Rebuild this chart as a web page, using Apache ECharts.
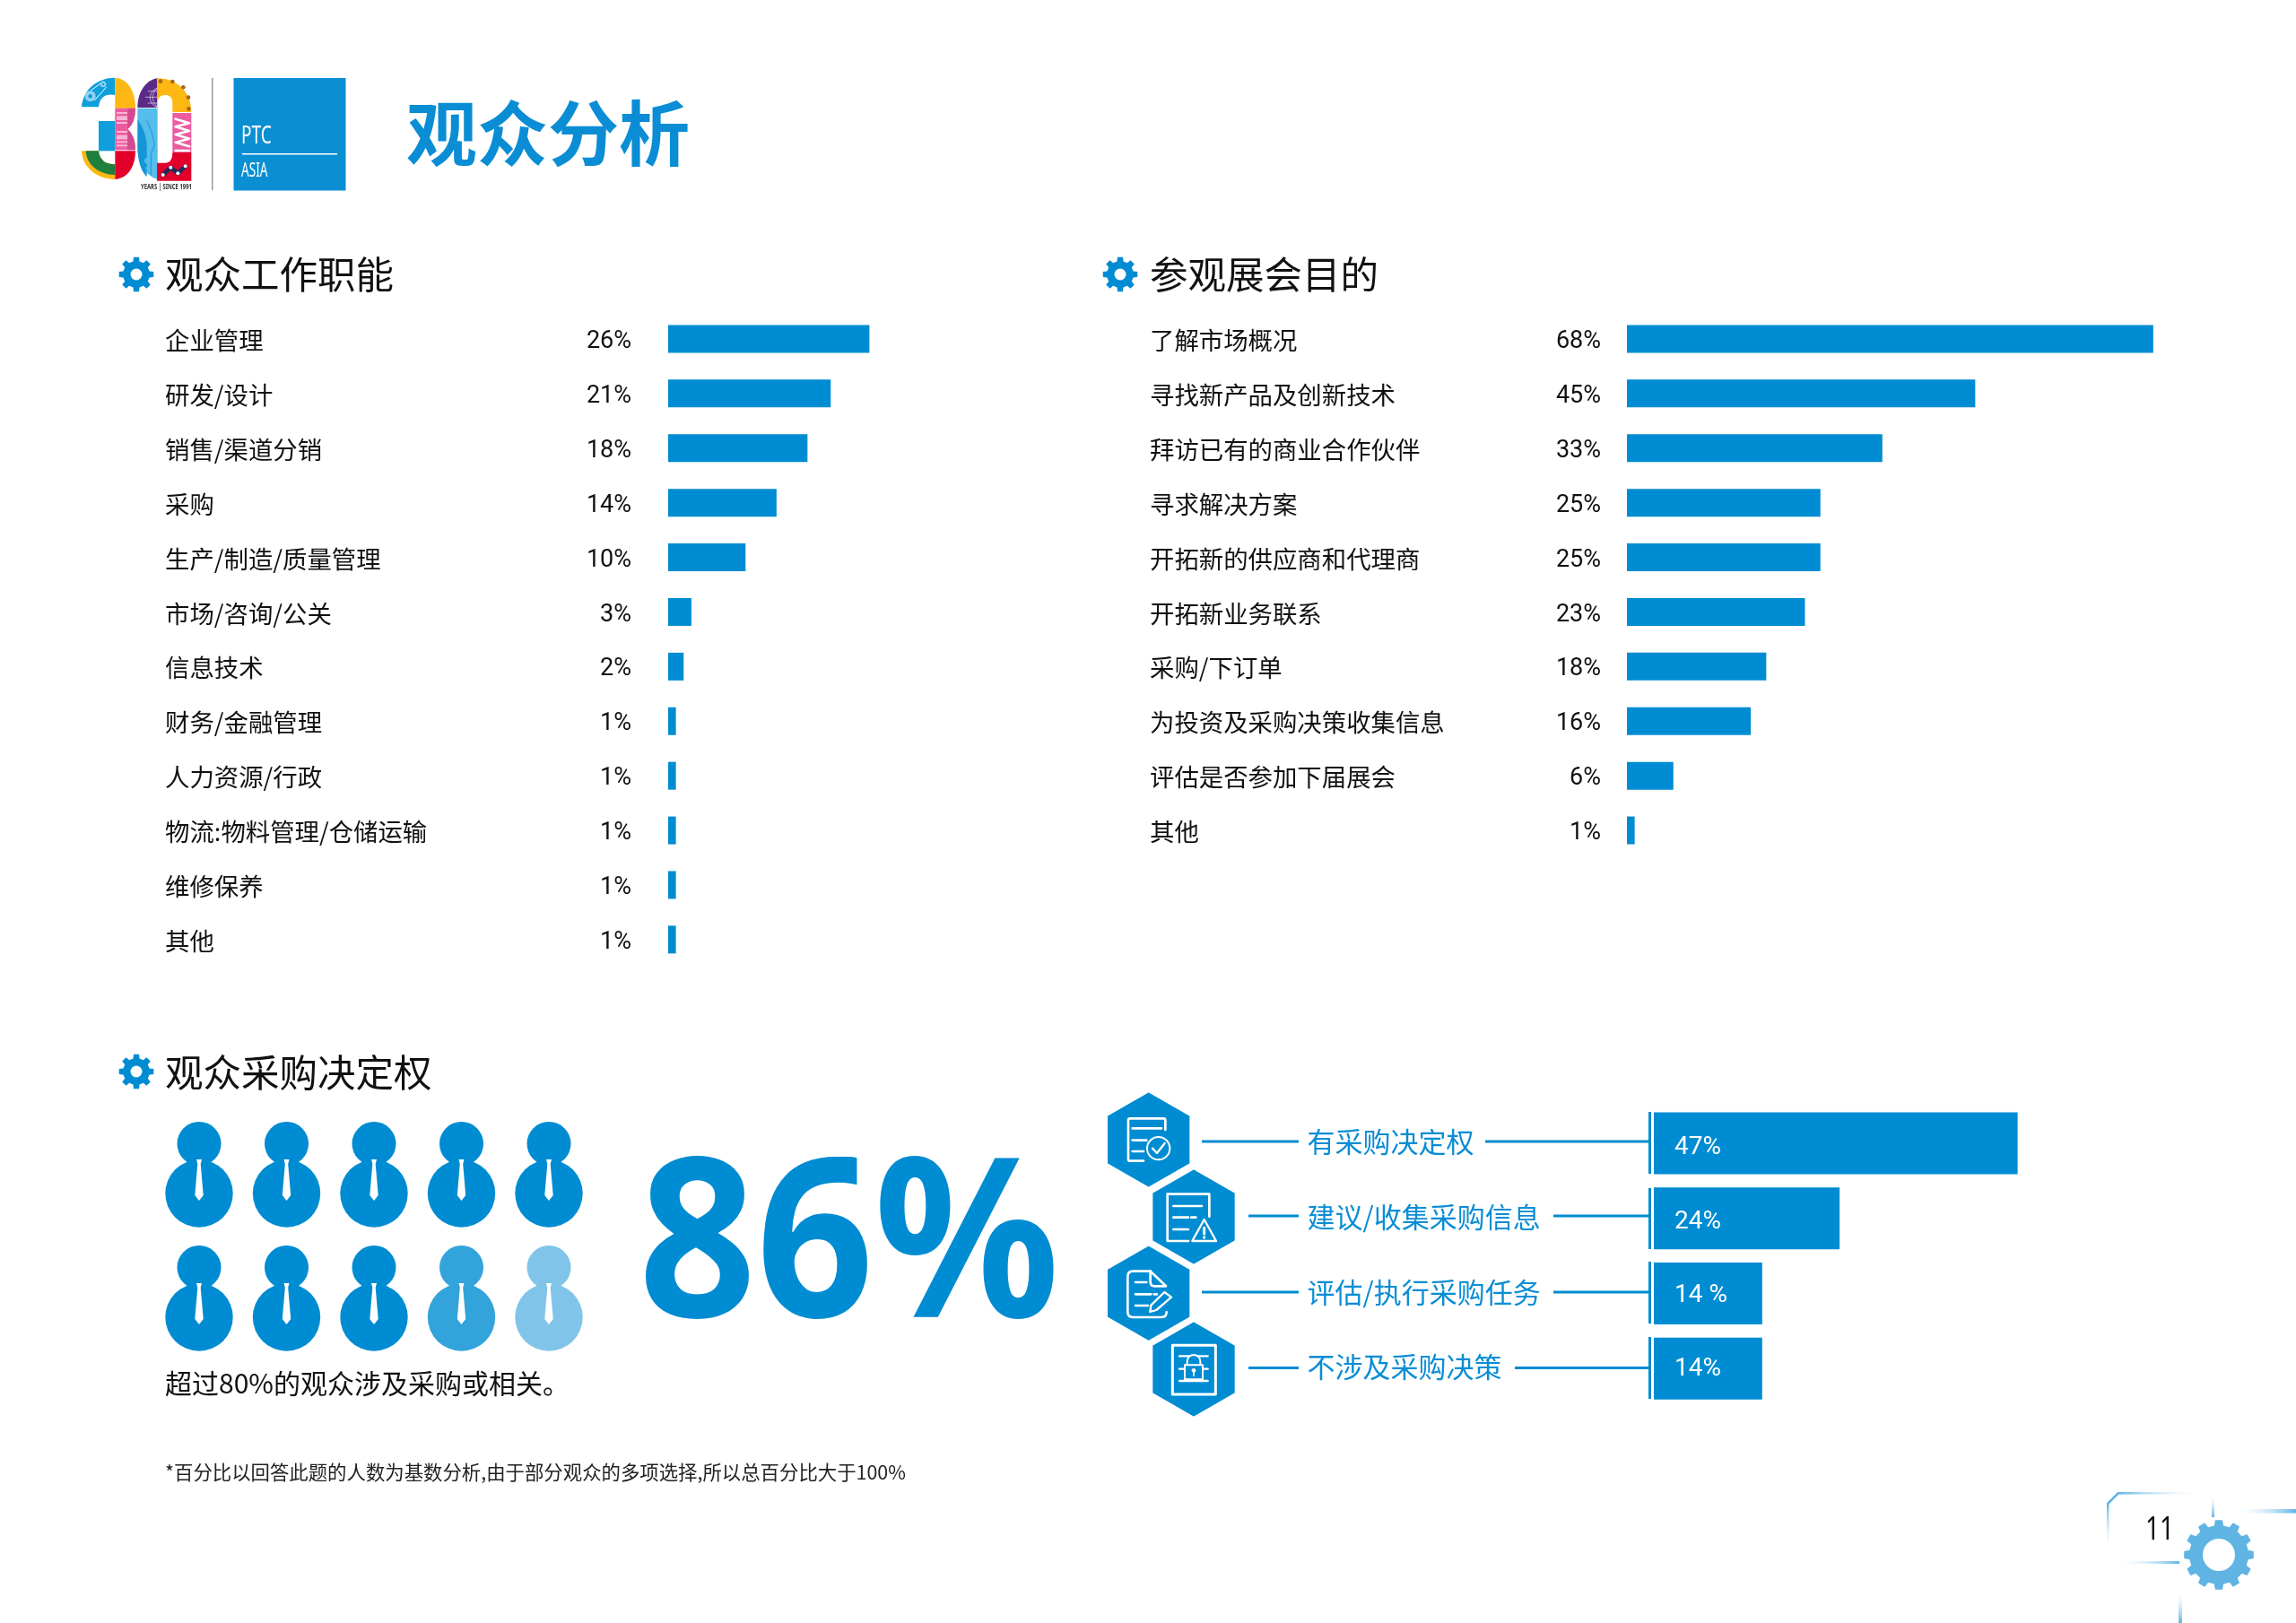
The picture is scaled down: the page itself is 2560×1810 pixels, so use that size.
<!DOCTYPE html>
<html><head><meta charset="utf-8">
<style>html,body{margin:0;padding:0;background:#fff}#c{width:2560px;height:1810px}</style>
<script src="https://cdn.jsdelivr.net/npm/echarts@6/dist/echarts.min.js"></script>
</head><body><div id="c"></div>
<script>
const jobCats=['企业管理','研发/设计','销售/渠道分销','采购','生产/制造/质量管理','市场/咨询/公关','信息技术','财务/金融管理','人力资源/行政','物流:物料管理/仓储运输','维修保养','其他'];
const jobVals=[26,21,18,14,10,3,2,1,1,1,1,1];
const aimCats=['了解市场概况','寻找新产品及创新技术','拜访已有的商业合作伙伴','寻求解决方案','开拓新的供应商和代理商','开拓新业务联系','采购/下订单','为投资及采购决策收集信息','评估是否参加下届展会','其他'];
const aimVals=[68,45,33,25,25,23,18,16,6,1];
const roleCats=['有采购决定权','建议/收集采购信息','评估/执行采购任务','不涉及采购决策'];
const roleVals=[47,24,14,14];
const roleLabels=['47%','24%','14 %','14%'];
const peopleShade=[[0,0,0,0,0],[0,0,0,1,2]];
const bigNumber='86%';
const mainTitle='观众分析';
const headings=['观众工作职能','参观展会目的','观众采购决定权'];
const note='超过80%的观众涉及采购或相关。';
const footnote='*百分比以回答此题的人数为基数分析,由于部分观众的多项选择,所以总百分比大于100%';
const pageNo='11';

const BLUE='#008CD2';
const SHADES=[BLUE,'#33A3DB','#80C5E9'];
const CJK='"Noto Sans CJK SC"';
const pct=a=>a.map(v=>v+'%');

function R(x,y,w,h,fill){return {type:'rect',shape:{x,y,width:w,height:h},style:{fill}};}
function P(d,fill,stroke,lw){return {type:'path',shape:{pathData:d},style:{fill:fill||'none',stroke:stroke||'none',lineWidth:lw||0,lineCap:'round',lineJoin:'round'}};}
function C(cx,cy,r,fill,stroke,lw){return {type:'circle',shape:{cx,cy,r},style:{fill:fill||'none',stroke:stroke||'none',lineWidth:lw||0}};}
function T(text,x,y,font,fill,align,sx){return {type:'text',x,y,scaleX:sx||1,style:{text,x:0,y:0,font,fill:fill||'#111',align:align||'left',verticalAlign:'middle'}};}
function fade(x,y,x2,y2,col){return {type:'linear',x,y,x2,y2,colorStops:[{offset:0,color:col},{offset:1,color:'rgba(255,255,255,0)'}]};}
function gear(cx,cy,ro,ri,n,hole,fill){
  let d='';const st=Math.PI*2/n;
  for(let i=0;i<n;i++){const a=i*st-Math.PI/2;
    const pts=[[ri,a-st*0.30],[ro,a-st*0.20],[ro,a+st*0.20],[ri,a+st*0.30]];
    pts.forEach((p,j)=>{d+=((i===0&&j===0)?'M':'L')+(cx+p[0]*Math.cos(p[1])).toFixed(2)+' '+(cy+p[0]*Math.sin(p[1])).toFixed(2)+' ';});}
  return [P(d+'Z',fill),C(cx,cy,hole,'#fff')];
}
function hex(cx,cy){const w=141,s=81,h=163/2+s;
  return P(`M${cx} ${cy-h}L${cx+w} ${cy-h+s}V${cy+h-s}L${cx} ${cy+h}L${cx-w} ${cy+h-s}V${cy-h+s}Z`,BLUE,'#fff',8);}

function logo(){
  const Y='#FDB813',PK='#EC5CA0',BL='#0E9FDC',LB='#55BDEB',RD='#E2002B',GN='#1E7F3E',NV='#1D2A5C';
  const c=[
    P('M18 118C22 60 70 20 130 20V78Q80 70 75 118Z',BL),
    C(47,82,18,'#8FD3F0'),C(47,82,7,BL),
    P('M50 62L90 33M62 95L100 52','none','#fff',3),C(90,42,10,'#8FD3F0'),C(90,42,4,BL),
    P('M130 20C175 22 198 70 198 122H130Z',Y),
    P('M130 122H198Q198 170 172 192Q198 215 198 262H130Z',PK),
    P('M172 122H198Q198 170 172 192Q198 215 198 262H172Z','#D4488E'),
    R(135,135,36,6,'#F9B4D3'),R(135,148,36,14,'#F9B4D3'),R(135,168,36,6,'#F9B4D3'),
    R(135,198,36,6,'#F9B4D3'),R(135,212,36,14,'#F9B4D3'),R(135,232,36,6,'#F9B4D3'),R(135,244,36,6,'#F9B4D3'),
    R(75,165,55,100,BL),
    P('M18 265H75Q80 310 130 310V360C70 360 20 320 18 265Z',Y),
    P('M32 265H75Q80 310 130 310V345C80 345 35 315 32 265Z',GN),
    P('M130 265H198C198 320 170 358 130 360Z',RD),
    P('M205 120C205 65 235 28 270 22V120Z','#5B2A86'),
    P('M270 55A33 33 0 0 0 270 118M270 55Q240 85 270 118M232 85H270M240 65H270M240 105H270','none','#E6DDF0',2),
    P('M270 22C340 22 385 70 385 135H322V105C322 85 312 78 297 78C282 78 272 88 272 105V122H270Z',Y),
    C(282,32,7,'#A9661E'),C(322,33,7,'#A9661E'),C(358,52,7,'#A9661E'),C(375,86,7,'#A9661E'),C(376,124,7,'#A9661E'),
    P('M205 122H272V360C235 350 205 310 205 250Z',LB),
    P('M206 160Q232 200 236 240V352C218 335 205 300 205 250Z','#1596D6'),
    P('M236 165Q255 200 262 245L250 275V345',null,'#1596D6',3),
    C(238,298,10,LB),C(238,322,5,LB),
    R(322,138,63,132,PK),
    P('M332 158L378 172L332 184L378 198L332 210L378 224L332 236L378 250M332 264H378','none','#fff',8),
    P('M385 270V365H270V305H297Q322 305 322 270Z',RD),
    P('M290 345L316 320L340 340L365 316','none',NV,14),
    C(290,345,6,'#fff'),C(316,320,6,'#fff'),C(340,340,6,'#fff'),C(365,316,6,'#fff')
  ];
  return {type:'group',x:85,y:80,scaleX:1/3,scaleY:1/3,children:c};
}
function icons(){
  const w='#fff',b=BLUE;
  const g1={type:'group',x:1230,y:1210,scaleX:1/3,scaleY:1/3,children:[
    hex(152,183),hex(303,441),
    P('M208 150V118Q208 112 202 112H90Q84 112 84 118V248Q84 254 90 254H135',null,w,8),
    P('M98 145H195M98 185H145M98 222H135',null,w,8),
    C(185,212,38,b,w,6),P('M165 212L180 228L206 195',null,w,7),
    P('M355 440V365H215V522H285',null,w,8),
    P('M235 405H330M235 443H285M295 443H310M235 483H285',null,w,8),
    P('M338 450L378 522H298Z',b,w,7),P('M338 478V498',null,w,9),C(338,510,5,w)
  ]};
  const g2={type:'group',x:1230,y:1385,scaleX:1/3,scaleY:1/3,children:[
    hex(152,172),hex(303,426),
    P('M158 98H100Q82 98 82 116V235Q82 252 100 252H195Q212 252 212 235',null,w,8),
    P('M158 98V135Q158 148 172 148H210L158 98',null,w,8),
    P('M108 135H145M108 175H160M170 175H180M108 213H150',null,w,8),
    P('M205 168L228 185L178 228L157 234L160 212Z',b,w,7),
    P('M232 346H376V510H232Z',null,w,9),
    P('M255 382H350M255 425H350M255 465H350',null,w,7),
    P('M281 412V400A22 22 0 0 1 325 400V412',b,w,6),
    P('M273 412H333V460H273Z',b,w,6),C(303,430,7,w),P('M303 436V448',null,w,5)
  ]};
  return [g1,g2];
}
function decor(){
  const H1='400 42.5px '+CJK;
  const ch=[];
  ch.push(logo());
  ch.push(R(236,87,1.5,125,'#9a9a9a'));
  ch.push(R(260.5,87,125,125.5,'#0B8FD3'));
  ch.push(T('PTC',269,152,'400 28px "Noto Sans"','#fff','left',0.68));
  ch.push(R(270,171,106,1.6,'#fff'));
  ch.push(T('ASIA',269,191,'400 22px "Noto Sans"','#fff','left',0.62));
  ch.push(T('YEARS | SINCE 1991',157,208.5,'700 9.5px "Noto Sans"','#333','left',0.62));
  ch.push(T(mainTitle,453,149,'700 79px '+CJK,'#0A8DD4'));
  ch.push(...gear(152,306,19.5,15,8,6.5,BLUE),T(headings[0],184,306,H1));
  ch.push(...gear(1249,306,19.5,15,8,6.5,BLUE),T(headings[1],1282,306,H1));
  ch.push(...gear(152,1195,19.5,15,8,6.5,BLUE),T(headings[2],184,1196,H1));
  ch.push(T(bigNumber,712,1398,'700 248px "Noto Sans"',BLUE,'left',0.925));
  ch.push(T(note,184,1543,'400 30px '+CJK,'#111'));
  ch.push(T(footnote,184,1642,'400 21.4px '+CJK,'#222'));
  ch.push(...icons());
  [[1273,1340,1448,1656],[1356,1392,1448,1732],[1441,1340,1448,1732],[1525.5,1392,1448,1689]].forEach(l=>{
    ch.push(R(l[1],l[0]-1.5,l[2]-l[1],3,BLUE),R(l[3],l[0]-1.5,1838-l[3],3,BLUE));
  });
  [[1240,69],[1325,68],[1407,69],[1491,69]].forEach(s=>ch.push(R(1838,s[0],3,s[1],BLUE)));
  const F='#5FB4E3';
  ch.push(P('M2362 1665L2350 1677',null,F,2.5));
  ch.push({type:'rect',shape:{x:2362,y:1664,width:95,height:2.5},style:{fill:fade(0,0,1,0,F)}});
  ch.push({type:'rect',shape:{x:2349,y:1677,width:2.5,height:55},style:{fill:fade(0,0,0,1,F)}});
  ch.push({type:'rect',shape:{x:2360,y:1741,width:70,height:3},style:{fill:fade(1,0,0,0,F)}});
  ch.push({type:'rect',shape:{x:2466,y:1665,width:3,height:27},style:{fill:fade(0,1,0,0,F)}});
  ch.push({type:'rect',shape:{x:2490,y:1683,width:70,height:4.5},style:{fill:fade(1,0,0,0,F)}});
  ch.push({type:'rect',shape:{x:2429,y:1772,width:4,height:38},style:{fill:fade(0,1,0,0,F)}});
  ch.push(T(pageNo,2408,1707,'400 36px "Noto Sans"','#111','center',0.78));
  ch.push(...gear(2474,1734,39,33,12,18,F));
  return {type:'group',children:ch};
}
function renderPerson(params,api){
  const p=api.coord([api.value(0),api.value(1)]);
  const col=SHADES[api.value(2)];
  return {type:'group',x:p[0],y:p[1],children:[
    {type:'circle',shape:{cx:0,cy:-55.5,r:24.5},style:{fill:col}},
    {type:'circle',shape:{cx:0,cy:0,r:37.7},style:{fill:col}},
    {type:'polygon',shape:{points:[[-3,-38],[3,-38],[1.7,-33],[4.7,2],[0,8],[-4.7,2],[-1.7,-33]]},style:{fill:'#fff'}}
  ]};
}
const peopleData=[];
peopleShade.forEach((r,j)=>r.forEach((o,i)=>peopleData.push([i,j,o])));

function catAxis(grid,data,margin,opts){
  return {type:'category',gridIndex:grid,inverse:true,data,position:'left',axisLine:{show:false},axisTick:{show:false},splitLine:{show:false},
    axisLabel:Object.assign({interval:0,margin,align:'left',verticalAlign:'top',lineHeight:3.4,fontFamily:CJK,fontSize:27.4,color:'#111'},opts||{})};
}
const rowH=60.9,pxPer=8.63;
const labelNudge=[5,4,3,1];
const option={
  animation:false,backgroundColor:'#fff',
  grid:[
    {left:745,top:347.5,width:pxPer*70,height:rowH*12},
    {left:1814,top:347.5,width:pxPer*70,height:rowH*10},
    {left:1844,top:1233,width:pxPer*50,height:335},
    {left:222,top:1331,width:390,height:138}
  ],
  xAxis:[0,1,2].map(i=>({type:'value',gridIndex:i,min:0,max:i===2?50:70,show:false}))
    .concat([{type:'value',gridIndex:3,min:0,max:4,show:false}]),
  yAxis:[
    catAxis(0,jobCats,561),
    catAxis(0,pct(jobVals),41,{align:'right',fontFamily:'Roboto',fontSize:27,lineHeight:6.6}),
    catAxis(1,aimCats,532),
    catAxis(1,pct(aimVals),29,{align:'right',fontFamily:'Roboto',fontSize:27,lineHeight:6.6}),
    catAxis(2,roleCats,386.5,{color:'#0A8DD4',fontSize:31,verticalAlign:'bottom',lineHeight:3}),
    {type:'value',gridIndex:3,min:0,max:1,inverse:true,show:false}
  ],
  series:[
    {type:'bar',xAxisIndex:0,yAxisIndex:0,data:jobVals,barWidth:31,itemStyle:{color:BLUE},silent:true},
    {type:'bar',xAxisIndex:1,yAxisIndex:2,data:aimVals,barWidth:31,itemStyle:{color:BLUE},silent:true},
    {type:'bar',xAxisIndex:2,yAxisIndex:4,barWidth:69,itemStyle:{color:BLUE},silent:true,
      data:roleVals.map((v,i)=>({value:v,label:{show:true,position:'insideLeft',distance:23,offset:[0,labelNudge[i]],color:'#fff',fontFamily:'Roboto',fontSize:28,formatter:roleLabels[i]}}))},
    {type:'custom',xAxisIndex:3,yAxisIndex:5,coordinateSystem:'cartesian2d',data:peopleData,renderItem:renderPerson,silent:true,clip:false},
    {type:'custom',coordinateSystem:'none',data:[[0]],renderItem:decor,silent:true,z:5}
  ]
};
echarts.init(document.getElementById('c')).setOption(option);
</script></body></html>
